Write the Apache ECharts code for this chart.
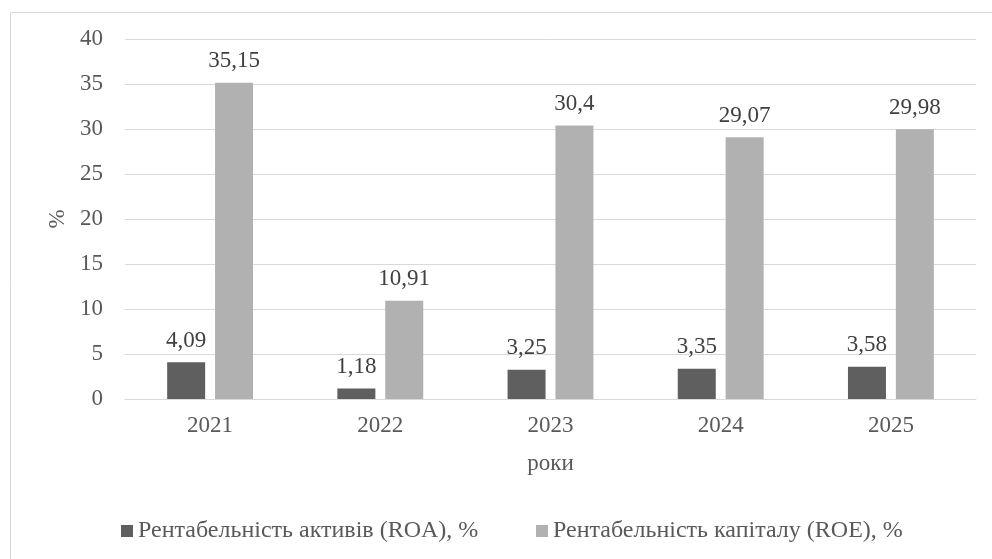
<!DOCTYPE html>
<html>
<head>
<meta charset="utf-8">
<script src="https://cdn.jsdelivr.net/npm/echarts@6/dist/echarts.min.js"></script>
<style>html,body{margin:0;padding:0;background:#fff}#c{width:992px;height:559px}</style>
</head>
<body>
<div id="c"></div>
<script>
const categories = ['2021', '2022', '2023', '2024', '2025'];
const roa = [4.09, 1.18, 3.25, 3.35, 3.58];
const roe = [35.15, 10.91, 30.4, 29.07, 29.98];
const seriesNames = ['Рентабельність активів (ROA), %', 'Рентабельність капіталу (ROE), %'];

const FONT = '"Liberation Serif", "Times New Roman", serif';
const chart = echarts.init(document.getElementById('c'), null, {renderer: 'canvas'});
const fmt = p => String(p.value).replace('.', ',');
chart.setOption({
  animation: false,
  textStyle: {fontFamily: FONT},
  graphic: [{
    type: 'rect', left: 8, top: 10, shape: {width: 1000, height: 600},
    style: {fill: 'none', stroke: '#d9d9d9', lineWidth: 1}, silent: true
  }],
  grid: {left: 125, right: 16, top: 39, bottom: 160},
  legend: [
    {data: [seriesNames[0]], left: 121, top: 519, padding: 0, itemWidth: 12, itemHeight: 12, icon: 'rect',
     textStyle: {fontFamily: FONT, fontSize: 24, color: '#595959'}},
    {data: [seriesNames[1]], left: 536, top: 519, padding: 0, itemWidth: 12, itemHeight: 12, icon: 'rect',
     textStyle: {fontFamily: FONT, fontSize: 24, color: '#595959'}}
  ],
  xAxis: {
    type: 'category', data: categories,
    name: 'роки', nameLocation: 'middle', nameGap: 53,
    nameTextStyle: {fontFamily: FONT, fontSize: 23, color: '#595959'},
    axisLine: {lineStyle: {color: '#d9d9d9', width: 1}},
    axisTick: {show: false},
    axisLabel: {fontFamily: FONT, fontSize: 23, color: '#595959', margin: 15}
  },
  yAxis: {
    type: 'value', min: 0, max: 40, interval: 5,
    name: '%', nameLocation: 'middle', nameGap: 52, nameRotate: 90,
    nameTextStyle: {fontFamily: FONT, fontSize: 23, color: '#595959'},
    axisLine: {show: false}, axisTick: {show: false},
    axisLabel: {fontFamily: FONT, fontSize: 23, color: '#595959', margin: 22},
    splitLine: {lineStyle: {color: '#d9d9d9', width: 1}}
  },
  series: [
    {name: seriesNames[0], type: 'bar', data: roa, barWidth: 38, barGap: '26%',
     itemStyle: {color: '#5f5f5f'},
     label: {show: true, position: 'top', distance: 10, formatter: fmt,
             fontFamily: FONT, fontSize: 23, color: '#404040'}},
    {name: seriesNames[1], type: 'bar', data: roe, barWidth: 38,
     itemStyle: {color: '#b1b1b1'},
     label: {show: true, position: 'top', distance: 10, formatter: fmt,
             fontFamily: FONT, fontSize: 23, color: '#404040'}}
  ]
});
</script>
</body>
</html>
